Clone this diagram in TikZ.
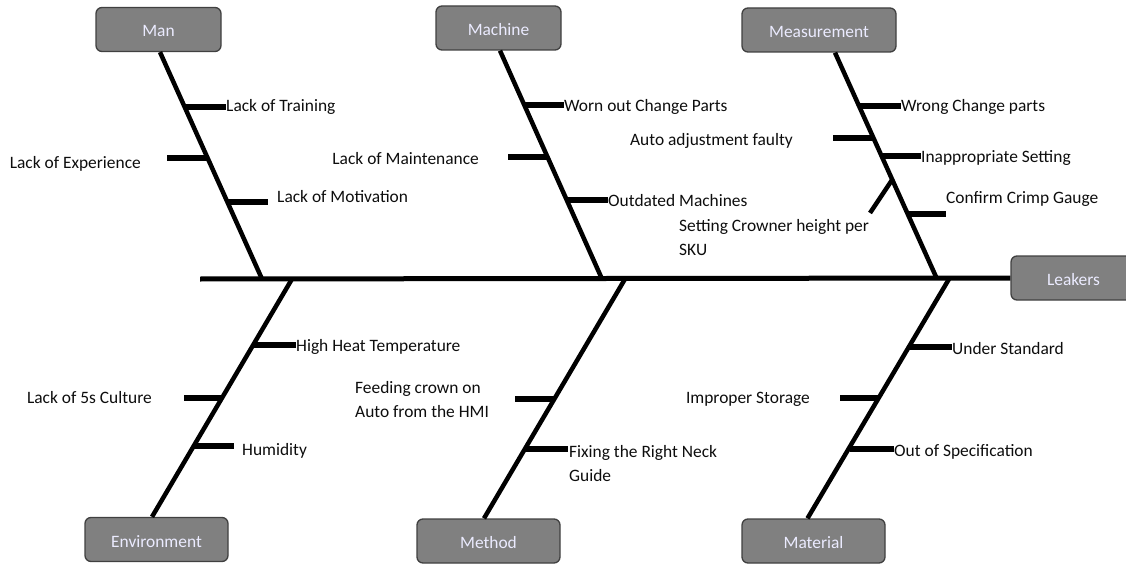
\documentclass[tikz,border=0pt]{standalone}
\usepackage{fontspec}
\setmainfont{Carlito}
\begin{document}
\begin{tikzpicture}[x=1pt,y=-1pt,
  catbox/.style={draw=black!75,line width=1.3pt,fill=black!50,rounded corners=6pt,
    text=white!92!blue,font=\fontsize{17.4}{20}\selectfont,inner sep=0pt,
    minimum height=44pt,text height=17pt,text depth=2pt},
  lbl/.style={font=\fontsize{17.4}{24}\selectfont,text=black!95,inner sep=0pt,yshift=-1.5pt},
  bone/.style={line width=4.5pt,black},
  tick/.style={line width=5.5pt,black},
  spinestyle/.style={line width=5pt,black}]
\useasboundingbox (0,0) rectangle (1126,564);
% category boxes
\node[catbox,minimum width=125pt] (man) at (158.5,29.5) {Man};
\node[catbox,minimum width=125pt] (machine) at (498.5,28) {Machine};
\node[catbox,minimum width=154pt] (meas) at (819,30) {Measurement};
\node[catbox,minimum width=125pt] (leak) at (1073.5,278) {Leakers};
\node[catbox,minimum width=143pt] (env) at (156.5,539.5) {Environment};
\node[catbox,minimum width=143pt] (meth) at (488.5,541) {Method};
\node[catbox,minimum width=143pt] (mat) at (813.5,541) {Material};
% spine
\coordinate (tail) at (200,279);
\draw[spinestyle] (tail) -- (leak.west);
% junctions on spine
\coordinate (jman) at (262,279);
\coordinate (jmac) at (602,279);
\coordinate (jmea) at (937,279);
\coordinate (jenv) at (292,279);
\coordinate (jmet) at (625,279);
\coordinate (jmat) at (949,279);
\draw[bone] ([xshift=1.5pt]man.south) -- (jman);
\draw[bone] ([xshift=1.5pt]machine.south) -- (jmac);
\draw[bone] ([xshift=16pt]meas.south) -- (jmea);
\draw[bone] (jenv) -- ([xshift=-4.5pt]env.north);
\draw[bone] (jmet) -- ([xshift=-4.5pt]meth.north);
\draw[bone] (jmat) -- ([xshift=-6pt]mat.north);
% ---- Man
\node[lbl,anchor=west] (t1) at (226,105) {Lack of Training};
\coordinate (b1) at (185,107);
\draw[tick] (b1) -- (t1.west |- b1);
\node[lbl,anchor=east] (t2) at (141,162) {Lack of Experience};
\coordinate (b2) at (208,158); \coordinate (e2) at (167,158);
\draw[tick] (b2) -- (e2);
\node[lbl,anchor=west] (t3) at (277,195) {Lack of Motivation};
\coordinate (b3) at (227,202); \coordinate (e3) at (268,202);
\draw[tick] (b3) -- (e3);
% ---- Machine
\node[lbl,anchor=west] (t4) at (564,105) {Worn out Change Parts};
\coordinate (b4) at (524,105);
\draw[tick] (b4) -- (t4.west |- b4);
\node[lbl,anchor=east] (t5) at (479,157) {Lack of Maintenance};
\coordinate (b5) at (548,157); \coordinate (e5) at (508,157);
\draw[tick] (b5) -- (e5);
\node[lbl,anchor=west] (t6) at (608,199) {Outdated Machines};
\coordinate (b6) at (567,200);
\draw[tick] (b6) -- (t6.west |- b6);
% ---- Measurement
\node[lbl,anchor=west] (t7) at (901,105) {Wrong Change parts};
\coordinate (b7) at (860,106);
\draw[tick] (b7) -- (t7.west |- b7);
\node[lbl,anchor=east] (t8) at (793,139) {Auto adjustment faulty};
\coordinate (b8) at (874,138); \coordinate (e8) at (833,138);
\draw[tick] (b8) -- (e8);
\node[lbl,anchor=west] (t9) at (921,156) {Inappropriate Setting};
\coordinate (b9) at (882,156);
\draw[tick] (b9) -- (t9.west |- b9);
\node[lbl,anchor=west,align=left] (t10) at (679,236) {Setting Crowner height per\\SKU};
\coordinate (b10) at (892,180); \coordinate (e10) at (870,213);
\draw[bone] (b10) -- (e10);
\node[lbl,anchor=west] (t11) at (946,197) {Confirm Crimp Gauge};
\coordinate (b11) at (908,214); \coordinate (e11) at (946,214);
\draw[tick] (b11) -- (e11);
% ---- Environment
\node[lbl,anchor=west] (t12) at (296,345) {High Heat Temperature};
\coordinate (b12) at (253,345);
\draw[tick] (b12) -- (t12.west |- b12);
\node[lbl,anchor=east] (t13) at (152,396) {Lack of 5s Culture};
\coordinate (b13) at (222,398); \coordinate (e13) at (184,398);
\draw[tick] (b13) -- (e13);
\node[lbl,anchor=west] (t14) at (242,449) {Humidity};
\coordinate (b14) at (194,446); \coordinate (e14) at (234,446);
\draw[tick] (b14) -- (e14);
% ---- Method
\node[lbl,anchor=west,align=left] (t15) at (355,398) {Feeding crown on\\Auto from the HMI};
\coordinate (b15) at (555,399); \coordinate (e15) at (515,399);
\draw[tick] (b15) -- (e15);
\node[lbl,anchor=west,align=left] (t16) at (569,462) {Fixing the Right Neck\\Guide};
\coordinate (b16) at (525,449); \coordinate (e16) at (568,449);
\draw[tick] (b16) -- (e16);
% ---- Material
\node[lbl,anchor=west] (t17) at (952,347) {Under Standard};
\coordinate (b17) at (910,347);
\draw[tick] (b17) -- (t17.west |- b17);
\node[lbl,anchor=east] (t18) at (810,398) {Improper Storage};
\coordinate (b18) at (879,398); \coordinate (e18) at (840,398);
\draw[tick] (b18) -- (e18);
\node[lbl,anchor=west] (t19) at (894,450) {Out of Specification};
\coordinate (b19) at (850,449);
\draw[tick] (b19) -- (t19.west |- b19);
\end{tikzpicture}
\end{document}
